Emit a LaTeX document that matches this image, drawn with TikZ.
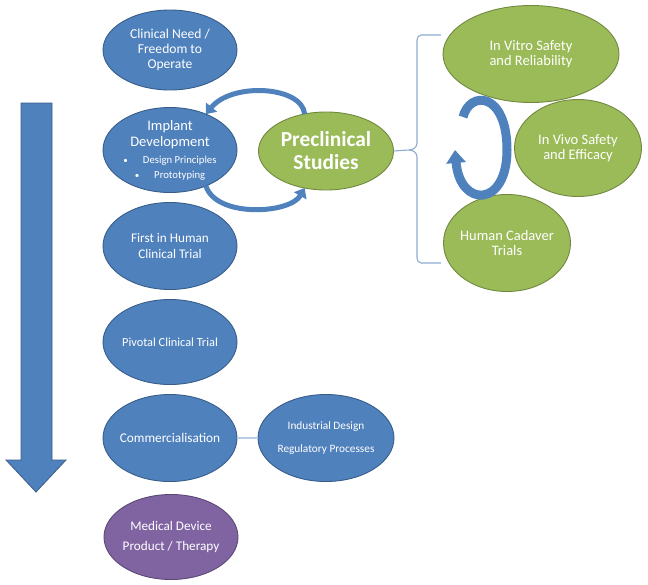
\documentclass[tikz,border=0pt]{standalone}
\usepackage{fontspec}
\setmainfont{Carlito}
\usepackage{tikz}
\usetikzlibrary{arrows.meta,shapes.geometric,calc}

\definecolor{bluefill}{HTML}{4F81BD}
\definecolor{blueline}{HTML}{385D8A}
\definecolor{greenfill}{HTML}{9BBB59}
\definecolor{greenline}{HTML}{71893F}
\definecolor{purplefill}{HTML}{8064A2}
\definecolor{purpleline}{HTML}{5C4776}
\definecolor{bracecol}{HTML}{8EAAD2}
\definecolor{linkcol}{HTML}{B9CDE5}

\newcommand{\bulletline}[1]{{\fontsize{10.7}{15}\selectfont{\small\textbullet}\hspace{15pt}#1}}

\begin{document}
\begin{tikzpicture}[
    x=1pt, y=1pt,
    bubble/.style={
        ellipse,
        inner xsep=-30pt,
        inner ysep=-25pt,
        outer sep=0pt,
        line width=0.9pt,
        text=white,
        align=center,
        font=\fontsize{13}{15}\selectfont
    },
    bluebub/.style={
        bubble,
        fill=bluefill,
        draw=blueline,
        minimum width=134pt,
        minimum height=85pt
    },
    greenbub/.style={
        bubble,
        fill=greenfill,
        draw=greenline,
        minimum width=128pt,
        minimum height=97pt,
        font=\fontsize{14.5}{15.5}\selectfont
    },
    purplebub/.style={
        bubble,
        fill=purplefill,
        draw=purpleline,
        minimum width=134pt,
        minimum height=85pt
    },
    loopar/.style={
        draw=bluefill,
        line width=5pt,
        -{Triangle[width=14pt,length=9pt]}
    },
    ring/.style={
        draw=bluefill,
        line width=9pt,
        -{Triangle[width=19pt,length=13pt]}
    },
    brace/.style={
        draw=bracecol,
        line width=1.1pt
    },
    link/.style={
        draw=linkcol,
        line width=1.6pt
    }
]

% ---------------------------------------------------------
% Canvas
% ---------------------------------------------------------
\path[use as bounding box] (0,0) rectangle (648,-584);

% progress arrow on the left
\filldraw[fill=bluefill, draw=blueline, line width=0.8pt]
    (21,-103) -- (52,-103) -- (52,-460) -- (66,-460)
    -- (36,-492) -- (6,-460) -- (21,-460) -- cycle;

% ---------------------------------------------------------
% Development stages
% ---------------------------------------------------------
\node[bluebub, minimum height=80pt, font=\fontsize{13.6}{14.8}\selectfont]
    (need) at (170,-50) {Clinical Need /\\Freedom to\\Operate};

\node[bluebub, font=\fontsize{14.5}{16}\selectfont] (impl) at (170,-150)
    {Implant\\
    Development\\[1pt]
    \bulletline{Design Principles}\\[-1pt]
    \bulletline{Prototyping}};

\node[bluebub, minimum height=87pt, font=\fontsize{13.2}{15.5}\selectfont]
    (fih) at (170,-246) {First in Human\\Clinical Trial};

\node[bluebub, font=\fontsize{12.3}{15}\selectfont] (pivot) at (170,-342)
    {Pivotal Clinical Trial};

\node[bluebub, minimum height=87pt, font=\fontsize{13.3}{15}\selectfont]
    (comm) at (170,-438) {Commercialisation};

\node[bluebub, minimum width=136pt, minimum height=87pt,
    font=\fontsize{11.3}{23}\selectfont] (indus) at (326,-438)
    {Industrial Design\\Regulatory Processes};

\node[purplebub, font=\fontsize{13.2}{20}\selectfont] (device) at (171,-537)
    {Medical Device\\Product / Therapy};

\draw[link] (comm) -- (indus);

% ---------------------------------------------------------
% Preclinical studies
% ---------------------------------------------------------
\node[greenbub, minimum width=135pt, minimum height=78pt,
    font=\bfseries\fontsize{21.4}{23}\selectfont] (pre) at (326,-151)
    {Preclinical\\Studies};

\node[greenbub, minimum width=176pt] (vitro) at (531,-54)
    {In Vitro Safety\\and Reliability};

\node[greenbub, minimum width=127pt] (vivo) at (578,-148)
    {In Vivo Safety\\and Efficacy};

\node[greenbub, minimum width=127pt] (cadaver) at (507,-243)
    {Human Cadaver\\Trials};

% loop between development and preclinical
\draw[loopar] (pre.120) .. controls (302,-86) and (232,-82) .. (impl.45);
\draw[loopar] (impl.-45) .. controls (216,-218) and (290,-214) .. (pre.-120);

% brace to the three studies
\coordinate (btop) at (441,-35);
\coordinate (bbot) at (441,-263);
\draw[brace] (btop) -- (421,-35) to[out=180,in=90] (417,-40)
    -- (417,-143) to[out=-90,in=0] (409,-150) -- (pre.east);
\draw[brace] (bbot) -- (421,-263) to[out=180,in=-90] (417,-258)
    -- (417,-157) to[out=90,in=0] (409,-150);

% repeating cycle among the studies
\coordinate (rs) at (463,-117);
\coordinate (re) at (455,-150);
\draw[ring] (rs) .. controls (470,-90) and (507,-92) .. (507,-150)
    .. controls (507,-208) and (460,-208) .. (re);

\end{tikzpicture}
\end{document}
